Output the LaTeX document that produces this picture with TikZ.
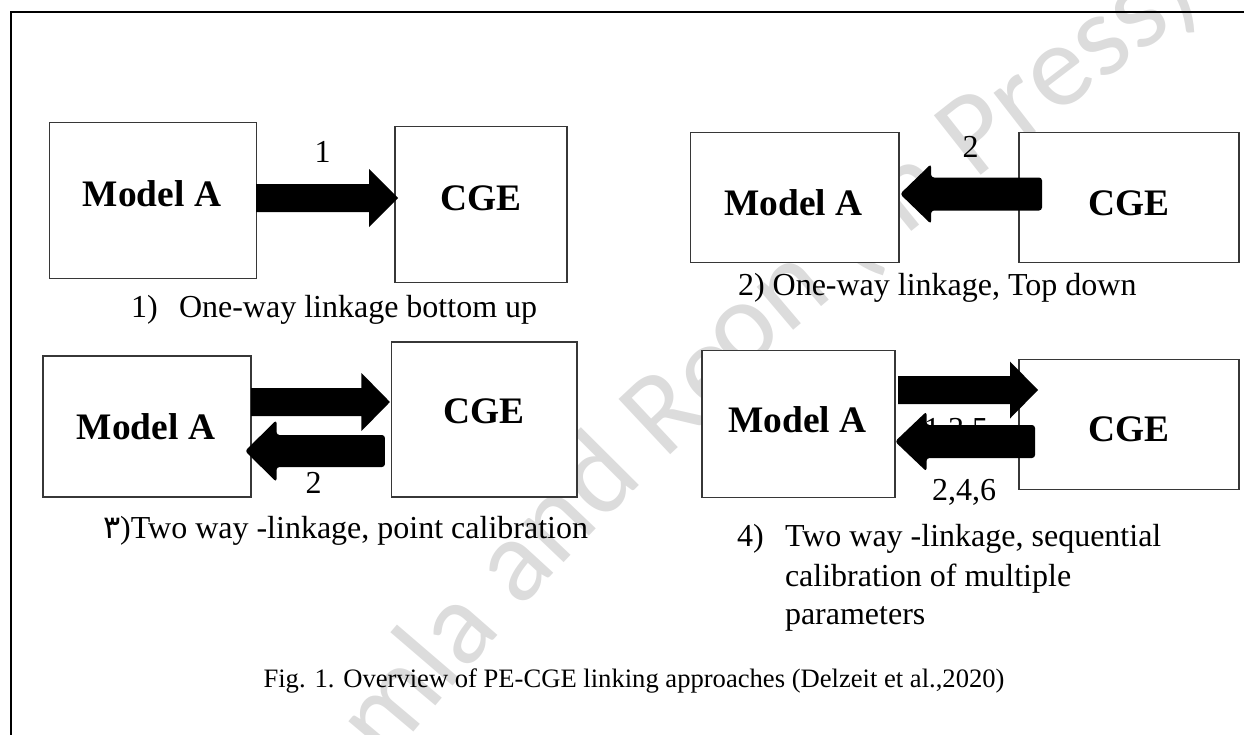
\documentclass[tikz,border=0pt]{standalone}
\usepackage{fontspec}
\setmainfont{Liberation Serif}
\newfontfamily\wmfont{Carlito}
\newfontfamily\arabicfont[Script=Arabic]{DejaVu Sans}
\usetikzlibrary{calc,decorations.text}

\definecolor{wmgray}{RGB}{220,220,220}
\definecolor{boxline}{RGB}{55,55,55}

\newcommand\txtsize{\fontsize{32}{39}\selectfont}
\newcommand\boldsize{\fontsize{37.4}{44}\selectfont\bfseries}
\newcommand\figsize{\fontsize{26.6}{32}\selectfont}
\newcommand\wmstyle{\wmfont\fontsize{118}{118}\selectfont\color{wmgray}}

% block arrow pointing right: tail point, tip point, head length, shaft half width, head half width
\newcommand\arrowright[5]{%
  \fill[blockfill] let \p1=(#1), \p2=(#2) in
    (\x1,\y1+#4pt) -- (\x2-#3pt,\y1+#4pt) -- (\x2-#3pt,\y1+#5pt) -- (\x2,\y1)
    -- (\x2-#3pt,\y1-#5pt) -- (\x2-#3pt,\y1-#4pt) -- (\x1,\y1-#4pt) -- cycle;}
% block arrow pointing left, with softened corners
\newcommand\arrowleft[5]{%
  \fill[blockfill, rounded corners=3pt] let \p1=(#1), \p2=(#2) in
    (\x1,\y1+#4pt) -- (\x2+#3pt,\y1+#4pt) -- (\x2+#3pt,\y1+#5pt) -- (\x2,\y1)
    -- (\x2+#3pt,\y1-#5pt) -- (\x2+#3pt,\y1-#4pt) -- (\x1,\y1-#4pt) -- cycle;}

\begin{document}
\begin{tikzpicture}[x=1pt, y=-1pt,
  every node/.style={inner sep=0pt, outer sep=0pt},
  modelbox/.style={draw=boxline, line width=1.4pt, fill=white},
  boxtext/.style={font=\boldsize, anchor=base},
  txt/.style={font=\txtsize, anchor=base west},
  numtxt/.style={font=\txtsize, anchor=base},
  blockfill/.style={fill=black}]

\useasboundingbox (0,0) rectangle (1244,734);
\clip (0,0) rectangle (1244,734);

% faint watermark lettering along a curve (its middle lies under a white box)
\path[decorate, decoration={text along path, text={|\wmstyle|mla and Re}}]
  (387,765) .. controls (575,540) and (835,235) .. (1335,10);
\path[decorate, decoration={text along path, text={|\wmstyle|on (In Press)}}]
  (740,376) .. controls (845,285) and (1015,140) .. (1275,-45);

% page frame
\draw[line width=2.2pt] (11,900) -- (11,12) -- (1400,12);

% boxes
\node[modelbox, minimum width=207pt, minimum height=156pt] (ma1) at (152.7,200.6) {};
\node[modelbox, minimum width=172pt, minimum height=156pt] (cge1) at (481,204.4) {};
\node[modelbox, minimum width=208.5pt, minimum height=130pt] (ma2) at (794.8,197.3) {};
\node[modelbox, minimum width=220pt, minimum height=130pt] (cge2) at (1129,197.3) {};
\node[modelbox, minimum width=208pt, minimum height=141pt] (ma3) at (147,426.4) {};
\node[modelbox, minimum width=185.5pt, minimum height=155pt] (cge3) at (484.2,419.4) {};
\node[modelbox, minimum width=193pt, minimum height=147pt] (ma4) at (798.5,423.7) {};
\node[modelbox, minimum width=220pt, minimum height=130pt] (cge4) at (1129,424.3) {};

% box titles
\node[boxtext] (ma1t) at (152,206) {Model A};
\node[boxtext] (cge1t) at (481,210) {CGE};
\node[boxtext] (ma2t) at (793.5,215.5) {Model A};
\node[boxtext] (cge2t) at (1129,215.5) {CGE};
\node[boxtext] (ma3t) at (146,439.5) {Model A};
\node[boxtext] (cge3t) at (484,423.5) {CGE};
\node[boxtext] (ma4t) at (797.5,432) {Model A};
\node[boxtext] (cge4t) at (1129,441.5) {CGE};

% step numbers
\node[numtxt] (n1) at (322.5,162) {1};
\node[numtxt] (n2) at (970.5,157) {2};
\node[numtxt] (n3) at (313.5,493) {2};
\node[numtxt] (n4a) at (956,439.5) {1,3,5};
\node[numtxt] (n4b) at (964,500) {2,4,6};

% linkage arrows
\coordinate (a1s) at (ma1.east |- 0,198);
\coordinate (a1e) at ($(cge1.west |- 0,198)+(3,0)$);
\arrowright{a1s}{a1e}{29}{14}{29}

\coordinate (a2s) at ($(cge2.west |- 0,194)+(23,0)$);
\coordinate (a2e) at ($(ma2.east |- 0,194)+(1,0)$);
\arrowleft{a2s}{a2e}{31}{16.5}{30}

\coordinate (a3s) at (ma3.east |- 0,402);
\coordinate (a3e) at ($(cge3.west |- 0,402)+(-1.5,0)$);
\arrowright{a3s}{a3e}{28.5}{14}{29}

\coordinate (a4s) at ($(cge3.west |- 0,451)+(-6.5,0)$);
\coordinate (a4e) at ($(ma3.east |- 0,451)+(-6,0)$);
\arrowleft{a4s}{a4e}{31.5}{16}{31}

\coordinate (a5s) at ($(ma4.east |- 0,390)+(3,0)$);
\coordinate (a5e) at ($(cge4.west |- 0,390)+(19,0)$);
\arrowright{a5s}{a5e}{28}{14}{28.5}

\coordinate (a6s) at ($(cge4.west |- 0,441.5)+(16,0)$);
\coordinate (a6e) at (ma4.east |- 0,441.5);
\arrowleft{a6s}{a6e}{31.5}{16.5}{30}

% captions
\node[txt] (c1a) at (131,317) {1)};
\node[txt] (c1b) at (179,317) {One-way linkage bottom up};
\node[txt] (c2) at (738,295) {2) One-way linkage, Top down};
\node[txt] (c3) at (103,538) {{\arabicfont ٣})Two way -linkage, point calibration};
\node[txt] (c4a) at (737,546) {4)};
\node[txt] (c4b) at (785,546) {Two way -linkage, sequential};
\node[txt] (c4c) at (785,586) {calibration of multiple};
\node[txt] (c4d) at (785,624) {parameters};

\node[font=\figsize, anchor=base] (fig) at (634,687)
  {Fig. 1. Overview of PE-CGE linking approaches (Delzeit et al.,2020)};
\end{tikzpicture}
\end{document}
